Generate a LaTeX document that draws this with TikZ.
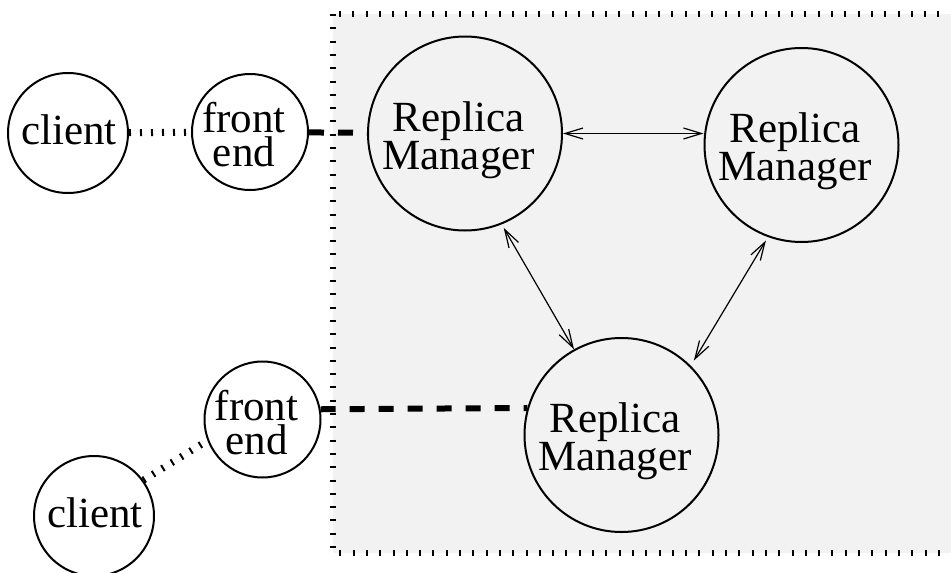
\documentclass[tikz,border=0pt]{standalone}
\usepackage{fontspec}
\setmainfont{Liberation Serif}
\usetikzlibrary{arrows.meta}

\begin{document}
\begin{tikzpicture}[x=1pt, y=-1pt,
    site/.style={circle, draw, line width=2pt, inner sep=0pt, minimum size=#1},
    every label/.style={align=center, inner sep=0pt, font=\fontsize{43}{36}\selectfont},
    rmtxt/.style={xshift=-6.5pt, yshift=-6.5pt},
    fetxt/.style={xshift=-6pt, yshift=-3pt, font=\fontsize{43}{34}\selectfont},
    cltxt/.style={xshift=1pt, yshift=3.5pt},
    region/.style={fill=black!5, line width=6pt, dash pattern=on 2pt off 11.3pt},
    dotlink/.style={line width=7pt, dash pattern=on 2pt off 9pt},
    fatlink/.style={line width=6pt, dash pattern=on 15pt off 14pt},
    twoway/.style={line width=1.2pt, {Straight Barb[length=18pt,width=11pt]}-{Straight Barb[length=18pt,width=11pt]}}]
    \useasboundingbox (0,0) rectangle (951,573);

    % service area
    \draw[region] (333,14) rectangle (975,553);

    % replica managers
    \node[site=194, label={[rmtxt]center:Replica\\Manager}] (rm1) at (465,133.5) {};
    \node[site=194, label={[rmtxt]center:Replica\\Manager}] (rm2) at (801.5,145) {};
    \node[site=194, label={[rmtxt]center:Replica\\Manager}] (rm3) at (621.5,435) {};

    % front ends and clients
    \node[site=116, fill=white, label={[fetxt]center:front\\end}] (fe1) at (250,132) {};
    \node[site=116, fill=white, label={[fetxt]center:front\\end}] (fe2) at (262.5,419.5) {};
    \node[site=120, fill=white, label={[cltxt]center:client}] (cl1) at (68,133) {};
    \node[site=120, fill=white, label={[cltxt]center:client}] (cl2) at (94,516) {};

    \draw[dotlink] (cl1) -- (fe1);
    \draw[dotlink] (cl2.36) -- (fe2.201);
    \draw[fatlink] (fe1) -- (rm1);
    \draw[fatlink] (fe2.10) -- (rm3.164);

    \draw[twoway] (rm1.east) -- (rm1.east -| rm2.west);
    \draw[twoway, shorten <=4pt] (rm1.-68.5) -- (rm3.119);
    \draw[twoway, shorten <=4pt, shorten >=6pt] (rm2.-110.6) -- (rm3.45.6);
\end{tikzpicture}
\end{document}
